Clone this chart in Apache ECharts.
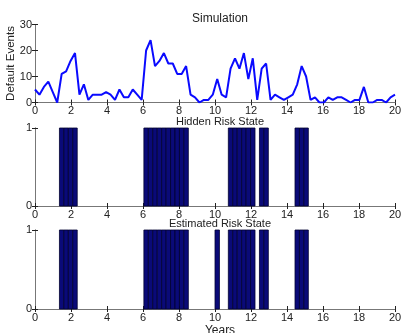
<!DOCTYPE html>
<html>
<head>
<meta charset="utf-8">
<script src="https://cdn.jsdelivr.net/npm/echarts@6/dist/echarts.min.js"></script>
<style>
html,body{margin:0;padding:0;background:#fff;}
#chart{width:402px;height:333px;}
</style>
</head>
<body>
<div id="chart"></div>
<script>
// Default events per period (82 samples spanning 0..20 years)
const events = [5,3,6,8,4,0,11,12,16,19,3,7,1,3,3,3,4,3,1,5,2,2,5,3,1,20,24,14,16,19,15,15,11,11,14,3,2,0,1,1,3,9,3,2,13,17,13,19,9,17,1,13,15,1,3,2,1,2,3,7,14,10,1,2,0,0,2,1,2,2,1,0,1,1,6,0,0,1,1,0,2,3];
// Hidden risk state per period
const hiddenState = [0,0,0,0,0,0,1,1,1,1,0,0,0,0,0,0,0,0,0,0,0,0,0,0,0,1,1,1,1,1,1,1,1,1,1,0,0,0,0,0,0,0,0,0,1,1,1,1,1,1,0,1,1,0,0,0,0,0,0,1,1,1,0,0,0,0,0,0,0,0,0,0,0,0,0,0,0,0,0,0,0,0];
// Estimated risk state per period
const estimatedState = [0,0,0,0,0,0,1,1,1,1,0,0,0,0,0,0,0,0,0,0,0,0,0,0,0,1,1,1,1,1,1,1,1,1,1,0,0,0,0,0,0,1,0,0,1,1,1,1,1,1,0,1,1,0,0,0,0,0,0,1,1,1,0,0,0,0,0,0,0,0,0,0,0,0,0,0,0,0,0,0,0,0];
const totalYears = 20;
const step = totalYears / (events.length - 1);
const years = events.map((_, i) => i * step);
const titles = ['Simulation', 'Hidden Risk State', 'Estimated Risk State'];

const FONT = 'Liberation Sans, Arial, sans-serif';
const grids = [
  {left: 35, right: 7, top: 24.5, height: 78, outerBoundsMode: 'none', containLabel: false},
  {left: 35, right: 7, top: 128, height: 78, outerBoundsMode: 'none', containLabel: false},
  {left: 35, right: 7, top: 230, height: 79, outerBoundsMode: 'none', containLabel: false}
];

const xAxes = [], yAxes = [];
grids.forEach((g, gi) => {
  xAxes.push({
    type: 'value', gridIndex: gi, min: 0, max: totalYears, interval: 2, position: 'bottom',
    axisLine: {show: true, lineStyle: {color: '#777', width: 1}},
    axisTick: {show: true, inside: true, length: 3, lineStyle: {color: '#222'}},
    axisLabel: {color: '#222', fontSize: 11, fontFamily: FONT, margin: 3, hideOverlap: false},
    splitLine: {show: false}
  });
  xAxes.push({
    type: 'value', gridIndex: gi, min: 0, max: totalYears, interval: 2, position: 'top',
    axisLine: {show: true, lineStyle: {color: '#777', width: 1}},
    axisTick: {show: true, inside: true, length: 3, lineStyle: {color: '#222'}},
    axisLabel: {show: false}, splitLine: {show: false}
  });
  const isTop = gi === 0;
  yAxes.push({
    type: 'value', gridIndex: gi, min: 0, max: isTop ? 30 : 1, interval: isTop ? 10 : 1, position: 'left',
    name: isTop ? 'Default Events' : '', nameLocation: 'middle', nameGap: 18, nameMoveOverlap: false,
    nameTextStyle: {color: '#222', fontSize: 11.5, fontFamily: FONT},
    axisLine: {show: true, lineStyle: {color: '#777', width: 1}},
    axisTick: {show: true, inside: true, length: 3, lineStyle: {color: '#222'}},
    axisLabel: {color: '#222', fontSize: 11, fontFamily: FONT, margin: 3},
    splitLine: {show: false}
  });
  yAxes.push({
    type: 'value', gridIndex: gi, min: 0, max: isTop ? 30 : 1, interval: isTop ? 10 : 1, position: 'right',
    axisLine: {show: true, lineStyle: {color: '#777', width: 1}},
    axisTick: {show: true, inside: true, length: 3, lineStyle: {color: '#222'}},
    axisLabel: {show: false}, splitLine: {show: false}
  });
});

function stateSeries(state, gi) {
  return {
    type: 'custom', xAxisIndex: gi * 2, yAxisIndex: gi * 2,
    data: state.map((s, i) => [years[i], s]).filter(d => d[1] > 0),
    renderItem: (params, api) => {
      const t = api.value(0), v = api.value(1);
      const p0 = api.coord([t - step / 2, 0]);
      const p1 = api.coord([t + step / 2, v]);
      return {
        type: 'rect',
        shape: {x: p0[0], y: p1[1], width: p1[0] - p0[0], height: p0[1] - p1[1]},
        style: {fill: '#0a0a78', stroke: '#000030', lineWidth: 0.8}
      };
    },
    silent: true, animation: false
  };
}

const chart = echarts.init(document.getElementById('chart'), null, {renderer: 'canvas'});
chart.setOption({
  backgroundColor: '#fff',
  animation: false,
  title: [
    {text: titles[0], left: 215, top: 8, textAlign: 'center', textStyle: {fontSize: 12, fontWeight: 'normal', color: '#222', fontFamily: FONT}},
    {text: titles[1], left: 215, top: 111, textAlign: 'center', textStyle: {fontSize: 11, fontWeight: 'normal', color: '#222', fontFamily: FONT}},
    {text: titles[2], left: 215, top: 213, textAlign: 'center', textStyle: {fontSize: 11, fontWeight: 'normal', color: '#222', fontFamily: FONT}},
    {text: 'Years', left: 215, top: 320, textAlign: 'center', textStyle: {fontSize: 12, fontWeight: 'normal', color: '#222', fontFamily: FONT}}
  ],
  grid: grids,
  xAxis: xAxes,
  yAxis: yAxes,
  series: [
    {
      type: 'line', xAxisIndex: 0, yAxisIndex: 0,
      data: events.map((v, i) => [years[i], v]),
      showSymbol: false, symbol: 'none',
      lineStyle: {color: '#0a0aff', width: 2},
      itemStyle: {color: '#0a0aff'}
    },
    stateSeries(hiddenState, 1),
    stateSeries(estimatedState, 2)
  ]
});
</script>
</body>
</html>
